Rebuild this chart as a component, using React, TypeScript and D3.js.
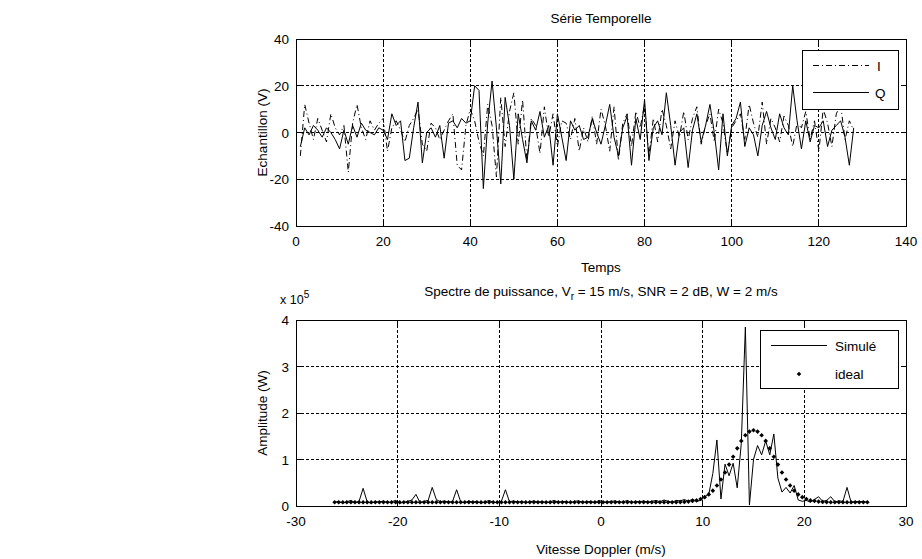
import React from "react";
import * as d3 from "d3";

// ---------- Data ----------
// Time series (samples 1..128)
const seriesI: number[] = [
  -10, 12, 4, -3, 6, 1, -4, 8, 2, -1,
  3, -17, 4, 12, 2, -3, 5, 1, 4, 6,
  -8, 2, 5, 1, -4, 3, 6, 10, -5, -8,
  4, 2, -3, 1, 5, 8, -14, -16, 3, 10,
  5, -4, -10, 12, 3, -19, 15, -6, 9, 17,
  -5, 14, -12, 6, 3, -9, 11, -2, 8, -6,
  5, 4, -3, 6, -8, 2, -4, 7, -5, 10,
  3, -8, 11, -12, 4, 8, -6, 9, 2, 12,
  -10, 6, -4, 10, 3, -7, 5, -2, 9, -3,
  6, 11, -5, 3, 8, -4, 10, 4, -9, 2,
  5, 8, -3, 12, 4, -2, 13, -5, 6, 2,
  -4, 7, 3, -6, 4, 2, 9, -3, 5, -8,
  10, 4, -6, 8, 12, -3, 5, 1,
];
const seriesQ: number[] = [
  -6, 2, -1, 3, 1, -2, 2, 0, -3, -7,
  1, -5, 3, -2, 4, 1, 0, -1, 2, 1,
  -3, 8, 3, 5, -12, -11, 2, 13, -13, 0,
  2, -2, 3, -11, 4, 5, 2, 6, 4, 5,
  20, 18, -24, 4, 22, 2, -22, 15, 3, -20,
  8, -3, -13, 5, 1, 9, -2, 3, -14, 8,
  -2, -12, 5, 1, 3, -3, -2, 6, 0, -5,
  3, 12, -2, -10, 2, 7, -14, 6, -3, 14,
  -12, 2, 5, -1, 17, 3, -14, 0, 2, -15,
  1, 8, -4, 3, 12, 0, -16, 8, -10, 3,
  6, 13, -6, 2, -1, -10, 3, 9, 2, -3,
  8, 2, -1, 20, 5, -7, 5, -4, 3, 2,
  5, -6, 1, 3, 5, -2, -14, 2,
];

// Spectrum: velocity grid start/step, values in units of 1e5 W
const velStart = -26.2;
const velStep = 0.4;
const spectrumSim: number[] = [
  0.08, 0.1, 0.06, 0.09, 0.12, 0.07, 0.1, 0.38, 0.09, 0.06,
  0.1, 0.08, 0.11, 0.07, 0.09, 0.12, 0.06, 0.08, 0.1, 0.13,
  0.25, 0.07, 0.1, 0.12, 0.4, 0.14, 0.09, 0.11, 0.08, 0.1,
  0.35, 0.09, 0.07, 0.11, 0.08, 0.1, 0.06, 0.09, 0.12, 0.08,
  0.07, 0.1, 0.35, 0.09, 0.11, 0.08, 0.1, 0.07, 0.09, 0.11,
  0.08, 0.1, 0.07, 0.09, 0.12, 0.08, 0.1, 0.09, 0.07, 0.1,
  0.11, 0.08, 0.09, 0.1, 0.07, 0.12, 0.09, 0.08, 0.1, 0.11,
  0.08, 0.09, 0.12, 0.07, 0.1, 0.09, 0.11, 0.08, 0.1, 0.12,
  0.09, 0.13, 0.1, 0.08, 0.12, 0.11, 0.14, 0.1, 0.15, 0.1,
  0.12, 0.2, 0.25, 0.7, 1.42, 0.15, 0.9, 0.65, 0.92, 0.39,
  1.35, 3.85, 0.02, 1.0, 1.3, 1.1, 1.4, 1.1, 1.55, 0.6,
  0.3, 0.4, 0.28, 0.44, 0.13, 0.1, 0.12, 0.08, 0.14, 0.2,
  0.1, 0.12, 0.2, 0.09, 0.11, 0.1, 0.4, 0.08, 0.1, 0.09,
  0.1, 0.08,
];
const spectrumIdeal: number[] = [
  0.08, 0.08, 0.08, 0.08, 0.08, 0.08, 0.08, 0.08, 0.08, 0.08,
  0.08, 0.08, 0.08, 0.08, 0.08, 0.08, 0.08, 0.08, 0.08, 0.08,
  0.08, 0.08, 0.08, 0.08, 0.08, 0.08, 0.08, 0.08, 0.08, 0.08,
  0.08, 0.08, 0.08, 0.08, 0.08, 0.08, 0.08, 0.08, 0.08, 0.08,
  0.08, 0.08, 0.08, 0.08, 0.08, 0.08, 0.08, 0.08, 0.08, 0.08,
  0.08, 0.08, 0.08, 0.08, 0.08, 0.08, 0.08, 0.08, 0.08, 0.08,
  0.08, 0.08, 0.08, 0.08, 0.08, 0.08, 0.08, 0.08, 0.08, 0.08,
  0.08, 0.08, 0.08, 0.08, 0.08, 0.08, 0.08, 0.08, 0.08, 0.08,
  0.08, 0.08, 0.08, 0.08, 0.08, 0.084, 0.088, 0.095, 0.11, 0.12,
  0.15, 0.19, 0.25, 0.33, 0.44, 0.57, 0.72, 0.89, 1.06, 1.24,
  1.4, 1.52, 1.6, 1.63, 1.6, 1.52, 1.4, 1.24, 1.06, 0.89,
  0.72, 0.57, 0.44, 0.33, 0.25, 0.19, 0.15, 0.12, 0.11, 0.095,
  0.088, 0.084, 0.08, 0.08, 0.08, 0.08, 0.08, 0.08, 0.08, 0.08,
  0.08, 0.08,
];

// Ticks
const topXTicks = [0, 20, 40, 60, 80, 100, 120, 140];
const topYTicks = [-40, -20, 0, 20, 40];
const botXTicks = [-30, -20, -10, 0, 10, 20, 30];
const botYTicks = [0, 1, 2, 3, 4];

// ---------- Layout ----------
const W = 922;
const H = 559;
const FONT = "'Liberation Sans', Arial, sans-serif";
const FS = 13.5;

const left = 296;
const right = 906;
const top1 = 39;
const bot1 = 226;
const top2 = 320;
const bot2 = 506;

function Axes({
  x, y, xTicks, yTicks, yTop, yBot,
}: {
  x: d3.ScaleLinear<number, number>;
  y: d3.ScaleLinear<number, number>;
  xTicks: number[];
  yTicks: number[];
  yTop: number;
  yBot: number;
}) {
  const tl = 5;
  return (
    <g>
      {xTicks.slice(1, -1).map((t) => (
        <line key={"gx" + t} x1={x(t)} x2={x(t)} y1={yTop} y2={yBot} stroke="#000" strokeWidth={1} strokeDasharray="3,2" shapeRendering="crispEdges" />
      ))}
      {yTicks.slice(1, -1).map((t) => (
        <line key={"gy" + t} x1={left} x2={right} y1={y(t)} y2={y(t)} stroke="#000" strokeWidth={1} strokeDasharray="3,2" shapeRendering="crispEdges" />
      ))}
      {xTicks.map((t) => (
        <g key={"tx" + t}>
          <line x1={x(t)} x2={x(t)} y1={yBot} y2={yBot - tl} stroke="#000" shapeRendering="crispEdges" />
          <line x1={x(t)} x2={x(t)} y1={yTop} y2={yTop + tl} stroke="#000" shapeRendering="crispEdges" />
        </g>
      ))}
      {yTicks.map((t) => (
        <g key={"ty" + t}>
          <line x1={left} x2={left + tl} y1={y(t)} y2={y(t)} stroke="#000" shapeRendering="crispEdges" />
          <line x1={right} x2={right - tl} y1={y(t)} y2={y(t)} stroke="#000" shapeRendering="crispEdges" />
        </g>
      ))}
      <rect x={left} y={yTop} width={right - left} height={yBot - yTop} fill="none" stroke="#000" strokeWidth={1} shapeRendering="crispEdges" />
      {xTicks.map((t) => (
        <text key={"lx" + t} x={x(t)} y={yBot + 20} textAnchor="middle" fontFamily={FONT} fontSize={FS}>{t}</text>
      ))}
      {yTicks.map((t) => (
        <text key={"ly" + t} x={left - 7} y={y(t) + 5} textAnchor="end" fontFamily={FONT} fontSize={FS}>{t}</text>
      ))}
    </g>
  );
}

export default function App() {
  const x1 = d3.scaleLinear().domain([0, 140]).range([left, right]);
  const y1 = d3.scaleLinear().domain([-40, 40]).range([bot1, top1]);
  const x2 = d3.scaleLinear().domain([-30, 30]).range([left, right]);
  const y2 = d3.scaleLinear().domain([0, 4]).range([bot2, top2]);

  const tsLine = d3
    .line<number>()
    .x((_, i) => x1(i + 1))
    .y((d) => y1(d));
  const spLine = d3
    .line<number>()
    .x((_, i) => x2(velStart + i * velStep))
    .y((d) => y2(d));

  const diamond = (cx: number, cy: number, r: number) =>
    `M${cx},${cy - r}L${cx + r},${cy}L${cx},${cy + r}L${cx - r},${cy}Z`;

  return (
    <svg width={W} height={H} style={{ position: "absolute", left: 0, top: 0, background: "#fff" }}>
      <rect x={0} y={0} width={W} height={H} fill="#fff" />

      {/* ---------- Top plot ---------- */}
      <text x={601} y={23} textAnchor="middle" fontFamily={FONT} fontSize={FS}>Série Temporelle</text>
      <Axes x={x1} y={y1} xTicks={topXTicks} yTicks={topYTicks} yTop={top1} yBot={bot1} />
      <path d={tsLine(seriesI) || ""} fill="none" stroke="#000" strokeWidth={1} strokeDasharray="6,3,1,3" />
      <path d={tsLine(seriesQ) || ""} fill="none" stroke="#000" strokeWidth={1} />
      <text x={601} y={272} textAnchor="middle" fontFamily={FONT} fontSize={FS}>Temps</text>
      <text transform={`translate(267,${(top1 + bot1) / 2}) rotate(-90)`} textAnchor="middle" fontFamily={FONT} fontSize={FS}>Echantillon (V)</text>

      {/* top legend */}
      <rect x={802.5} y={50.5} width={96} height={59} fill="#fff" stroke="#000" shapeRendering="crispEdges" />
      <line x1={813} x2={869} y1={65.5} y2={65.5} stroke="#000" strokeDasharray="6,3,1,3" />
      <text x={877} y={70.5} fontFamily={FONT} fontSize={FS}>I</text>
      <line x1={813} x2={869} y1={92.5} y2={92.5} stroke="#000" />
      <text x={875} y={97.5} fontFamily={FONT} fontSize={FS}>Q</text>

      {/* ---------- Bottom plot ---------- */}
      <text x={601} y={296} textAnchor="middle" fontFamily={FONT} fontSize={FS}>
        Spectre de puissance, V<tspan fontSize={10} dy={4}>r</tspan>
        <tspan dy={-4}> = 15 m/s, SNR = 2 dB, W = 2 m/s</tspan>
      </text>
      <text x={280} y={304} fontFamily={FONT} fontSize={FS - 1}>
        x 10<tspan fontSize={10} dy={-6}>5</tspan>
      </text>
      <Axes x={x2} y={y2} xTicks={botXTicks} yTicks={botYTicks} yTop={top2} yBot={bot2} />
      <path d={spLine(spectrumSim) || ""} fill="none" stroke="#000" strokeWidth={1} />
      {spectrumIdeal.map((d, i) => (
        <path key={"m" + i} d={diamond(x2(velStart + i * velStep), y2(d), 2.3)} fill="#000" />
      ))}
      <text x={601} y={554} textAnchor="middle" fontFamily={FONT} fontSize={FS}>Vitesse Doppler (m/s)</text>
      <text transform={`translate(267,${(top2 + bot2) / 2}) rotate(-90)`} textAnchor="middle" fontFamily={FONT} fontSize={FS}>Amplitude (W)</text>

      {/* bottom legend */}
      <rect x={760.5} y={330.5} width={138} height={58} fill="#fff" stroke="#000" shapeRendering="crispEdges" />
      <line x1={771} x2={827} y1={345.5} y2={345.5} stroke="#000" />
      <text x={835} y={350.5} fontFamily={FONT} fontSize={FS}>Simulé</text>
      <path d={diamond(799, 374, 2.3)} fill="#000" />
      <text x={835} y={379} fontFamily={FONT} fontSize={FS}>ideal</text>
    </svg>
  );
}
